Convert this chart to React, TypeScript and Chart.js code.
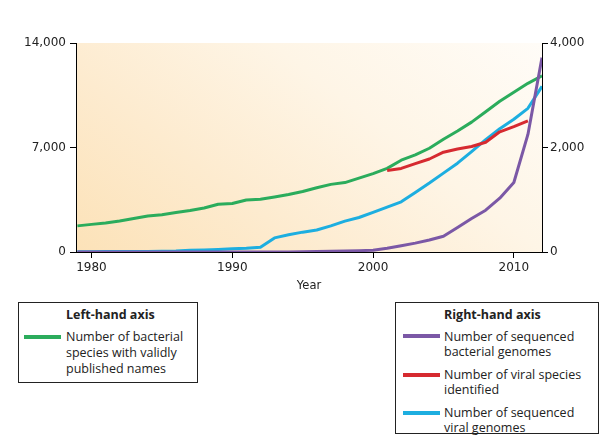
import React, { useEffect, useRef } from "react";
import { Chart, registerables } from "chart.js";

Chart.register(...registerables);

const years = [1979, 1980, 1981, 1982, 1983, 1984, 1985, 1986, 1987, 1988, 1989, 1990, 1991, 1992, 1993, 1994, 1995, 1996, 1997, 1998, 1999, 2000, 2001, 2002, 2003, 2004, 2005, 2006, 2007, 2008, 2009, 2010, 2011, 2012];
// Left-hand axis: bacterial species with validly published names
const bacterialSpecies = [1750, 1850, 1950, 2080, 2250, 2410, 2500, 2640, 2780, 2950, 3200, 3250, 3480, 3530, 3680, 3850, 4050, 4300, 4530, 4650, 4950, 5250, 5600, 6150, 6500, 6950, 7550, 8100, 8700, 9400, 10100, 10700, 11300, 11800];
// Right-hand axis
const bacterialGenomes = [0, 0, 0, 0, 0, 0, 0, 0, 0, 0, 0, 0, 0, 0, 0, 0, 5, 10, 15, 20, 25, 35, 70, 120, 170, 230, 300, 470, 640, 800, 1030, 1330, 2250, 3720];
const viralGenomes = [5, 5, 10, 10, 10, 10, 15, 20, 35, 40, 50, 60, 70, 90, 270, 330, 380, 420, 500, 590, 660, 760, 860, 960, 1140, 1320, 1510, 1700, 1920, 2150, 2360, 2540, 2750, 3170];
const viralYears = [2001, 2002, 2003, 2004, 2005, 2006, 2007, 2008, 2009, 2010, 2011];
const viralSpecies = [1560, 1600, 1690, 1780, 1910, 1970, 2020, 2100, 2300, 2400, 2510];

const xTicks = [1980, 1990, 2000, 2010];
const leftTicks = [0, 7000, 14000];
const rightTicks = [0, 2000, 4000];

const GREEN = "#2bac5c";
const PURPLE = "#7b58a6";
const RED = "#d62a30";
const CYAN = "#1daee0";

const tickFont = { family: "DejaVu Sans", size: 12 };
const TXT = "#222";

const bgPlugin = {
  id: "bgGrad",
  beforeDraw(chart: any) {
    const { ctx, chartArea: a } = chart;
    if (!a) return;
    const w = a.right - a.left;
    const h = a.bottom - a.top;
    const g = ctx.createLinearGradient(a.left, a.bottom, a.left + 0.62 * w, a.bottom - 1.8 * h);
    g.addColorStop(0, "#fce2b8");
    g.addColorStop(0.3, "#fdebcf");
    g.addColorStop(0.6, "#fef5e6");
    g.addColorStop(1, "#fffdfa");
    ctx.save();
    ctx.fillStyle = g;
    ctx.fillRect(a.left, a.top, w, h);
    ctx.restore();
  },
};

const legendText: React.CSSProperties = {
  position: "absolute",
  fontFamily: "'Open Sans'",
  fontSize: 12.5,
  lineHeight: "16px",
  color: TXT,
  whiteSpace: "nowrap",
};

function Line({ x, y, color }: { x: number; y: number; color: string }) {
  return <div style={{ position: "absolute", left: x, top: y - 2, width: 37, height: 4, background: color }} />;
}

function T({ x, y, children, bold }: { x: number; y: number; children: React.ReactNode; bold?: boolean }) {
  return <div style={{ ...legendText, left: x, top: y - 8, fontWeight: bold ? 700 : 400 }}>{children}</div>;
}

export default function App() {
  const ref = useRef<HTMLCanvasElement>(null);
  useEffect(() => {
    if (!ref.current) return;
    const pts = (xs: number[], ys: number[]) => xs.map((x, i) => ({ x, y: ys[i] }));
    const ds = (label: string, data: any, color: string, axis: string) => ({
      label,
      data,
      borderColor: color,
      backgroundColor: color,
      borderWidth: 3,
      pointRadius: 0,
      tension: 0,
      borderJoinStyle: "round" as const,
      yAxisID: axis,
    });
    const axisCommon = {
      grid: { drawOnChartArea: false, drawTicks: true, tickLength: 6, color: "#000", lineWidth: 1 },
      border: { display: true, color: "#000", width: 1 },
    };
    const chart = new Chart(ref.current, {
      type: "line",
      data: {
        datasets: [
          ds("Number of sequenced bacterial genomes", pts(years, bacterialGenomes), PURPLE, "yR"),
          ds("Number of viral species identified", pts(viralYears, viralSpecies), RED, "yR"),
          ds("Number of sequenced viral genomes", pts(years, viralGenomes), CYAN, "yR"),
          ds("Number of bacterial species with validly published names", pts(years, bacterialSpecies), GREEN, "yL"),
        ],
      },
      options: {
        animation: false,
        responsive: false,
        events: [],
        layout: { padding: { top: 43, left: 0, right: 0, bottom: 0 } },
        plugins: { legend: { display: false }, tooltip: { enabled: false } },
        scales: {
          x: {
            type: "linear",
            min: 1978.9,
            max: 2012,
            ...axisCommon,
            afterBuildTicks: (s: any) => { s.ticks = xTicks.map((v) => ({ value: v })); },
            afterFit: (s: any) => { s.height = 48; },
            ticks: { font: tickFont, color: TXT, padding: 3, maxRotation: 0, callback: (v: any) => String(v) },
            title: { display: true, text: "Year", font: { family: "DejaVu Sans", size: 11.5 }, color: TXT, padding: { top: 0, bottom: 7 } },
          },
          yL: {
            type: "linear",
            position: "left",
            min: 0,
            max: 14000,
            ...axisCommon,
            afterBuildTicks: (s: any) => { s.ticks = leftTicks.map((v) => ({ value: v })); },
            afterFit: (s: any) => { s.width = 76; },
            ticks: { font: tickFont, color: TXT, padding: 4, callback: (v: any) => Number(v).toLocaleString("en-US") },
          },
          yR: {
            type: "linear",
            position: "right",
            min: 0,
            max: 4000,
            ...axisCommon,
            afterBuildTicks: (s: any) => { s.ticks = rightTicks.map((v) => ({ value: v })); },
            afterFit: (s: any) => { s.width = 64; },
            ticks: { font: tickFont, color: TXT, padding: 2, callback: (v: any) => Number(v).toLocaleString("en-US") },
          },
        },
      } as any,
      plugins: [bgPlugin],
    });
    return () => chart.destroy();
  }, []);

  return (
    <div style={{ position: "absolute", left: 0, top: 0, width: 606, height: 448, background: "#fff" }}>
      <canvas ref={ref} width={606} height={300} style={{ position: "absolute", left: 0, top: 0, width: 606, height: 300 }} />
      <div style={{ position: "absolute", left: 18, top: 302, width: 178, height: 79, border: "1px solid #222" }} />
      <T x={66} y={315} bold>Left-hand axis</T>
      <Line x={24} y={337} color={GREEN} />
      <T x={66} y={337}>Number of bacterial</T>
      <T x={66} y={353}>species with validly</T>
      <T x={66} y={369}>published names</T>

      <div style={{ position: "absolute", left: 395, top: 302, width: 202, height: 130, border: "1px solid #222" }} />
      <T x={444} y={315} bold>Right-hand axis</T>
      <Line x={403} y={336} color={PURPLE} />
      <T x={444} y={337}>Number of sequenced</T>
      <T x={444} y={352}>bacterial genomes</T>
      <Line x={403} y={375} color={RED} />
      <T x={444} y={375}>Number of viral species</T>
      <T x={444} y={390}>identified</T>
      <Line x={403} y={413} color={CYAN} />
      <T x={444} y={413}>Number of sequenced</T>
      <T x={444} y={428}>viral genomes</T>
    </div>
  );
}
